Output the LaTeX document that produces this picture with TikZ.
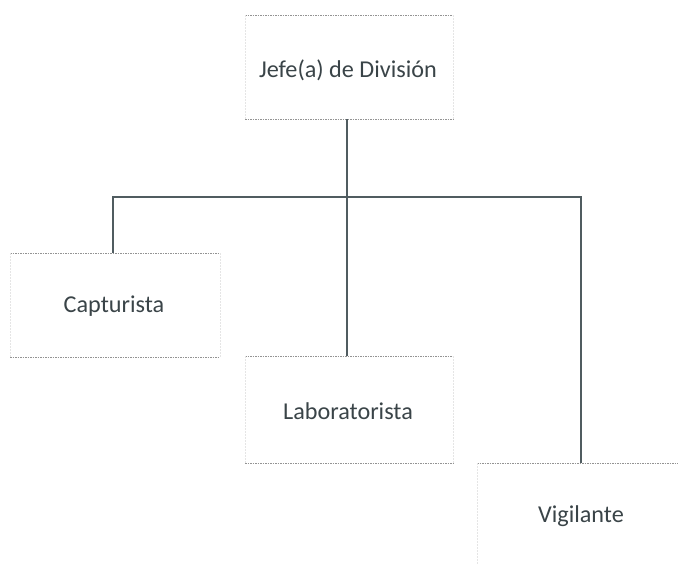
\documentclass[tikz,border=0pt]{standalone}
\usepackage{fontspec}
\setmainfont{Carlito}
\definecolor{txtc}{HTML}{3A4448}
\definecolor{linec}{HTML}{505C60}
\begin{document}
\begin{tikzpicture}[x=1pt,y=-1pt,
  txt/.style={text=txtc, font=\fontsize{24.2}{27}\selectfont},
  hline/.style={draw=gray!85, line width=0.8pt, dash pattern=on 1.5pt off 1pt},
  vline/.style={draw=gray!20, line width=0.6pt, dash pattern=on 1.5pt off 1.5pt},
  conn/.style={draw=linec, line width=2pt}]
\useasboundingbox[fill=white] (0,0) rectangle (678,563);
% boxes
\coordinate (j1) at (245,15); \coordinate (j2) at (453,119);
\coordinate (c1) at (10,253); \coordinate (c2) at (220,357);
\coordinate (l1) at (245,356); \coordinate (l2) at (453,463);
\coordinate (v1) at (477,463); \coordinate (v2) at (686,567);
\foreach \a/\b in {j1/j2,c1/c2,l1/l2,v1/v2}{
  \draw[hline] (\a) -- (\a -| \b);
  \draw[hline] (\b -| \a) -- (\b);
  \draw[vline] (\a) -- (\b -| \a);
  \draw[vline] (\a -| \b) -- (\b);
}
\node[txt] (jefe) at (348,70) {Jefe(a) de División};
\node[txt] (cap) at (114,306) {Capturista};
\node[txt] (lab) at (348,411) {Laboratorista};
\node[txt] (vig) at (581,516) {Vigilante};
% connectors
\coordinate (jb) at (347,119);
\coordinate (bus) at (347,197);
\coordinate (ct) at (113,253);
\coordinate (lt) at (347,356);
\coordinate (vt) at (581,463);
\draw[conn] (jb) -- (lt);
\draw[conn] (ct) |- (bus) -| (vt);
\end{tikzpicture}
\end{document}
